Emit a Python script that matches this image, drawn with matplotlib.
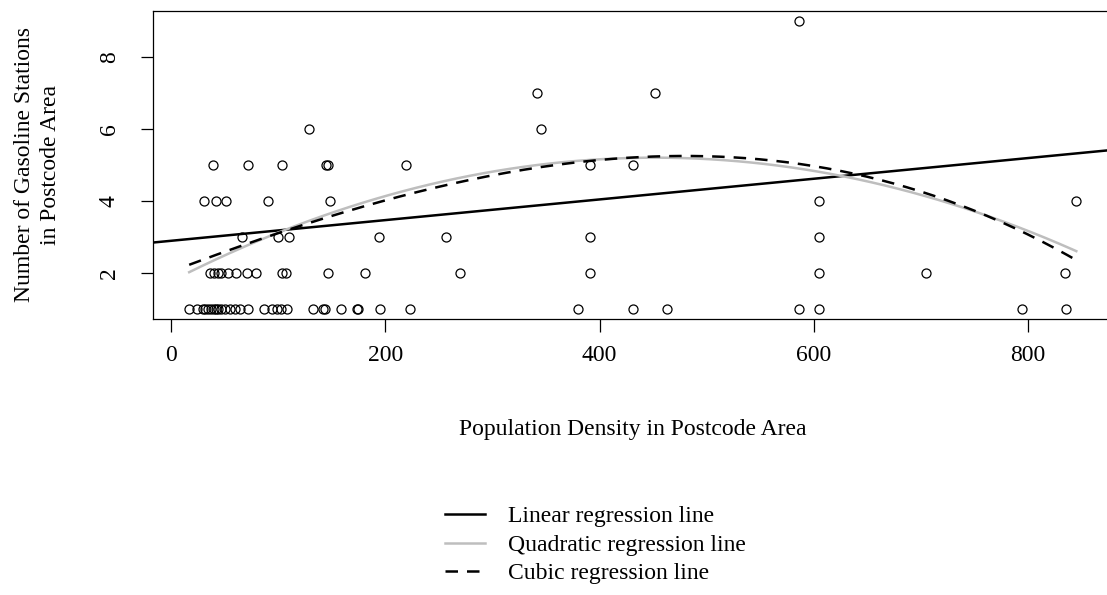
import numpy as np
import matplotlib
matplotlib.use("Agg")
import matplotlib.pyplot as plt

# population density per postcode area and number of gasoline stations
density = [586,
           342, 452,
           129, 345,
           39, 72, 104, 145, 147, 219, 391, 431,
           31, 42, 51, 91, 148, 605, 845,
           66, 100, 110, 194, 257, 391, 605,
           36, 40, 44, 47, 53, 61, 71, 79, 104, 107, 147, 181, 270, 391, 605, 705, 834,
           17, 24, 30, 32, 35, 37, 40, 42, 44, 47, 50, 55, 60, 64, 72, 87, 94, 99,
           103, 108, 133, 142, 144, 159, 174, 175, 195, 223, 380, 431, 463, 586,
           605, 794, 835]
stations = [9,
            7, 7,
            6, 6,
            5, 5, 5, 5, 5, 5, 5, 5,
            4, 4, 4, 4, 4, 4, 4,
            3, 3, 3, 3, 3, 3, 3,
            2, 2, 2, 2, 2, 2, 2, 2, 2, 2, 2, 2, 2, 2, 2, 2, 2,
            1, 1, 1, 1, 1, 1, 1, 1, 1, 1, 1, 1, 1, 1, 1, 1, 1, 1,
            1, 1, 1, 1, 1, 1, 1, 1, 1, 1, 1, 1, 1, 1,
            1, 1, 1]

# fitted coefficients (x in hundreds), lowest order first
lin_coef = [2.888, 0.2876]
quad_coef = [1.7615, 1.5214, -0.1683]
cub_coef = [2.0302, 1.1321, -0.05250, -0.009112]

legend_labels = ["Linear regression line", "Quadratic regression line",
                 "Cubic regression line"]

plt.rcParams['font.family'] = ['Liberation Serif', 'DejaVu Serif']
plt.rcParams['font.size'] = 17

fig = plt.figure(figsize=(11.07, 5.95), dpi=100)
ax = fig.add_axes([0.1382, 0.4639, 0.866, 0.5176])

ax.plot(density, stations, 'o', mfc='none', mec='black', ms=6.5, mew=0.9,
        zorder=3)

xx = np.linspace(-20, 900, 200)
P = np.polynomial.polynomial.polyval
ax.plot(xx, P(xx / 100, lin_coef), color='black', lw=1.8,
        label=legend_labels[0])
xr = np.linspace(min(density), max(density), 200)
ax.plot(xr, P(xr / 100, quad_coef), color='#bebebe', lw=1.8,
        label=legend_labels[1])
ax.plot(xr, P(xr / 100, cub_coef), color='black', lw=1.8,
        dashes=(5, 3.6), label=legend_labels[2])

ax.set_xlim(-16.8, 878)
ax.set_ylim(0.714, 9.278)
ax.set_xticks([0, 200, 400, 600, 800])
ax.set_yticks([2, 4, 6, 8])
ax.tick_params(length=9, width=0.9, pad=10)
ax.tick_params(axis='y', pad=15)
for lab in ax.get_yticklabels():
    lab.set_rotation(90)
    lab.set_va('center')
for s in ax.spines.values():
    s.set_linewidth(0.9)

ax.set_xlabel("Population Density in Postcode Area", labelpad=38)
ax.set_ylabel("Number of Gasoline Stations\nin Postcode Area", labelpad=27,
              linespacing=1.3)

fig.legend(loc='upper left', bbox_to_anchor=(0.402, 0.15), frameon=False,
           handlelength=1.7, handletextpad=0.95, labelspacing=0.3,
           borderaxespad=0, borderpad=0)

fig.savefig("out.png", dpi=100)
